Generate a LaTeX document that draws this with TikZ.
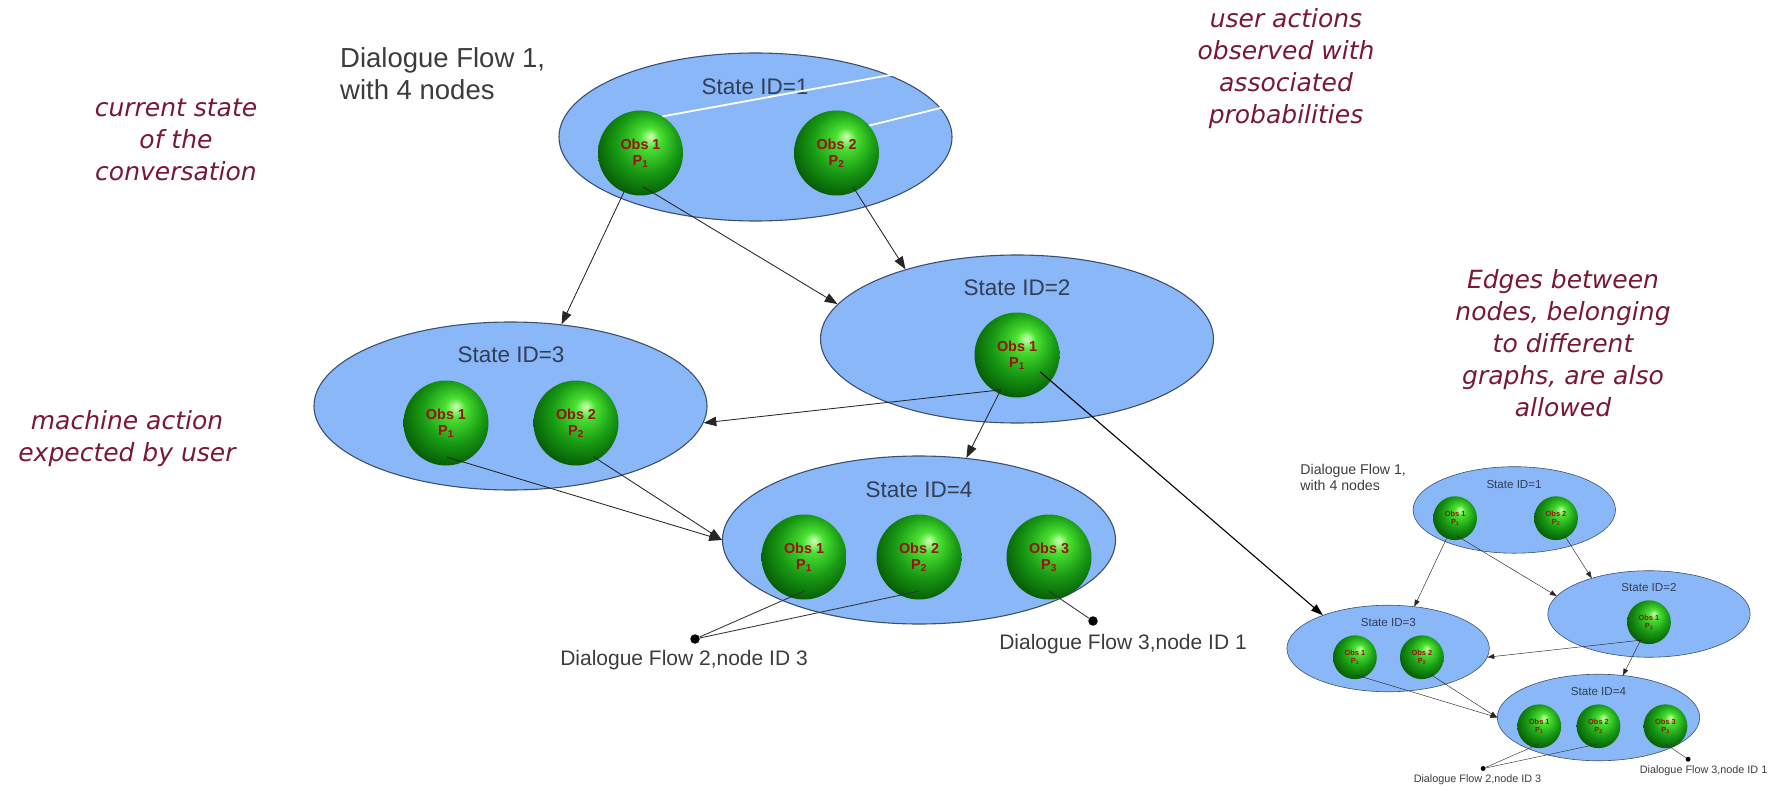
\documentclass[tikz,border=0pt]{standalone}
\usepackage{fontspec}
\setmainfont{Liberation Sans}
\newfontfamily\notefont{DejaVu Sans}[ItalicFont={DejaVu Sans Oblique}]
\usetikzlibrary{shapes.geometric}
\usetikzlibrary{arrows.meta}
\usetikzlibrary{calc}

\definecolor{statefill}{RGB}{137,183,248}
\definecolor{stateline}{RGB}{60,80,110}
\definecolor{statetext}{RGB}{50,62,85}
\definecolor{flowtext}{RGB}{60,60,60}
\definecolor{notecolor}{RGB}{122,24,52}
\definecolor{obstext}{RGB}{150,20,10}
\definecolor{ballhi}{RGB}{210,255,180}
\definecolor{ballmid}{RGB}{75,225,50}
\definecolor{balldark}{RGB}{25,155,20}
\definecolor{balledge}{RGB}{0,75,0}

% green ball, light spot up and to the right
\pgfdeclareradialshading{greenball}{\pgfqpoint{6bp}{10bp}}{%
  color(0bp)=(ballhi); color(6bp)=(ballmid); color(18bp)=(balldark);
  color(33bp)=(balledge); color(50bp)=(balledge)}

\tikzset{
  statebox/.style = {ellipse, draw=stateline, fill=statefill, line width=1.1pt,
      minimum width=393pt, minimum height=168pt, inner sep=0pt},
  statename/.style = {inner sep=0pt, text=statetext,
      font=\fontsize{22.5}{27}\selectfont},
  obs/.style = {circle, shading=greenball, minimum size=85pt, inner sep=0pt,
      align=center, text=obstext, font=\bfseries\fontsize{14.4}{16}\selectfont},
  flowarrow/.style = {draw=black!85, line width=.85pt,
      -{Triangle[length=0pt 15,width=0pt 11]}},
  flowlink/.style = {draw=black!80, line width=.85pt},
  flowdot/.style = {circle, fill=black, minimum size=9.5pt, inner sep=0pt},
  flowlabel/.style = {inner sep=0pt, text=flowtext,
      font=\fontsize{21}{25}\selectfont},
  flowtitle/.style = {inner sep=0pt, text=flowtext, align=left,
      font=\fontsize{27.5}{32}\selectfont},
  note/.style = {align=center, text=notecolor, inner sep=4pt,
      font=\notefont\itshape\fontsize{25}{32}\selectfont},
  pointer/.style = {draw=white, line width=1.8pt}
}

% one dialogue flow: four states, their observations and the exits
\newcommand{\dialogueflow}{%
  \node[flowtitle, anchor=west] (title) at (340,74) {Dialogue Flow 1,\\with 4 nodes};
  \node[statebox] (s1) at (755.5,137) {};
  \node[statebox] (s2) at (1017,339) {};
  \node[statebox] (s3) at (510.5,406) {};
  \node[statebox] (s4) at (919,540) {};
  \node[statename] (s1-name) at (755,87) {State ID=1};
  \node[statename] (s2-name) at (1017,288) {State ID=2};
  \node[statename] (s3-name) at (511,355) {State ID=3};
  \node[statename] (s4-name) at (919,490) {State ID=4};
  \node[obs] (s1o1) at (640.5,153) {Obs 1\\P\textsubscript{1}};
  \node[obs] (s1o2) at (836.5,153) {Obs 2\\P\textsubscript{2}};
  \node[obs] (s2o1) at (1017,355) {Obs 1\\P\textsubscript{1}};
  \node[obs] (s3o1) at (446,423) {Obs 1\\P\textsubscript{1}};
  \node[obs] (s3o2) at (576,423) {Obs 2\\P\textsubscript{2}};
  \node[obs] (s4o1) at (804,557) {Obs 1\\P\textsubscript{1}};
  \node[obs] (s4o2) at (919,557) {Obs 2\\P\textsubscript{2}};
  \node[obs] (s4o3) at (1049,557) {Obs 3\\P\textsubscript{3}};
  \node[flowdot] (dot1) at (695,639) {};
  \node[flowdot] (dot2) at (1093,621) {};
  \node[flowlabel] (dot1-label) at (684,660) {Dialogue Flow 2,node ID 3};
  \node[flowlabel] (dot2-label) at (1123,644) {Dialogue Flow 3,node ID 1};
  \path
    (s1o1.-113) edge[flowarrow] (s3.58)
    ($(s1o1)!.8!(s1o1.-85)$) edge[flowarrow] (s2.169)
    ($(s1o2)!.88!(s1o2.-64)$) edge[flowarrow] (s2.148)
    ($(s2o1)!.9!(s2o1.-115)$) edge[flowarrow] (s3.-5)
    ($(s2o1)!.9!(s2o1.-115)$) edge[flowarrow] (s4.60)
    ($(s3o1)!.8!(s3o1.-88)$) edge[flowarrow] (s4.west)
    ($(s3o2)!.88!(s3o2.-63)$) edge[flowarrow] (s4.west);
  \path
    ($(s4o1)!.8!(s4o1.south)$) edge[flowlink] (dot1)
    ($(s4o2)!.8!(s4o2.south)$) edge[flowlink] (dot1)
    ($(s4o3)!.8!(s4o3.south)$) edge[flowlink] (dot2);
}

\begin{document}
\begin{tikzpicture}[x=1pt, y=-1pt]
  \useasboundingbox (0,0) rectangle (1779,786);
  % the flow at full size
  \begin{scope}[name prefix=main-]
    \dialogueflow
  \end{scope}
  % the same flow, small, bottom right
  \begin{scope}[shift={(1125.2,439.4)}, scale=.515, transform shape,
      name prefix=mini-,
      statebox/.append style={line width=.6pt},
      flowarrow/.append style={line width=.45pt},
      flowlink/.append style={line width=.45pt}]
    \dialogueflow
  \end{scope}

  % notes
  \node[note] (curstate) at (176,140) {current state\\of the\\conversation};
  \node[note] (machact) at (127,439) {machine action\\expected by user};
  \node[note] (useract) at (1286,69)
    {user actions\\observed with\\associated\\probabilities};
  \node[note] (crossedges) at (1563,343)
    {Edges between\\nodes, belonging\\to different\\graphs, are also\\allowed};

  \draw[pointer] (main-s1o1.59) -- (useract.152);
  \draw[pointer] (main-s1o2.40) -- (useract.166);

  % edge into the other graph
  \draw[draw=black, line width=1.1pt, -{Triangle[length=12pt,width=8pt]}]
    ($(main-s2o1)!.67!(main-s2o1.-36)$) -- (mini-s3.153);
\end{tikzpicture}
\end{document}
